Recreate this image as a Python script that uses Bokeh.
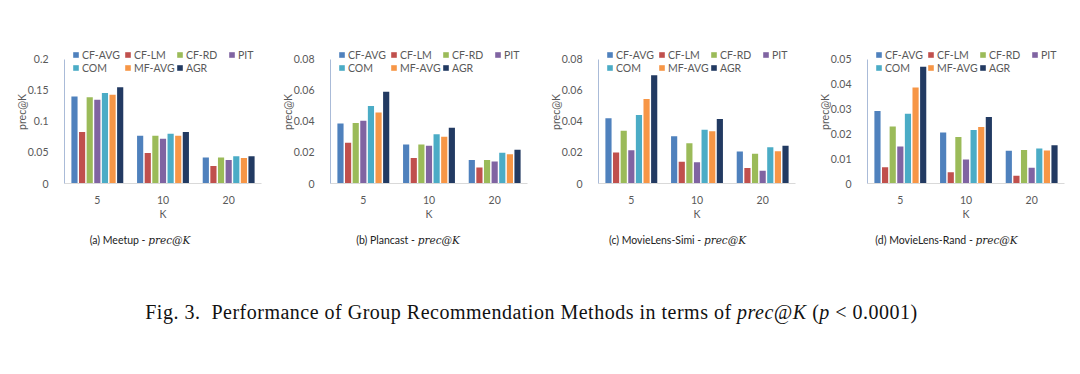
from bokeh.plotting import figure
from bokeh.models import (FactorRange, Range1d, FixedTicker, CustomJSTickFormatter,
                          Legend, LegendItem, Div, ColumnDataSource)
from bokeh.transform import dodge
from bokeh.layouts import column, row
from bokeh.embed import file_html
from bokeh.resources import INLINE

# ---------------- data ----------------
ks = ["5", "10", "20"]
methods = ["CF-AVG", "CF-LM", "CF-RD", "PIT", "COM", "MF-AVG", "AGR"]
colors = ["#4F81BD", "#C0504D", "#9BBB59", "#8064A2", "#4BACC6", "#F79646", "#223A62"]

meetup = {
    "CF-AVG": [0.140, 0.077, 0.042],
    "CF-LM":  [0.083, 0.049, 0.028],
    "CF-RD":  [0.139, 0.077, 0.042],
    "PIT":    [0.135, 0.072, 0.038],
    "COM":    [0.146, 0.080, 0.044],
    "MF-AVG": [0.143, 0.077, 0.041],
    "AGR":    [0.155, 0.083, 0.044],
}
plancast = {
    "CF-AVG": [0.0387, 0.0252, 0.0152],
    "CF-LM":  [0.0262, 0.0165, 0.0103],
    "CF-RD":  [0.0390, 0.0251, 0.0152],
    "PIT":    [0.0404, 0.0243, 0.0141],
    "COM":    [0.0500, 0.0317, 0.0198],
    "MF-AVG": [0.0457, 0.0302, 0.0189],
    "AGR":    [0.0592, 0.0360, 0.0217],
}
movielens_simi = {
    "CF-AVG": [0.0420, 0.0305, 0.0207],
    "CF-LM":  [0.0200, 0.0140, 0.0100],
    "CF-RD":  [0.0340, 0.0260, 0.0192],
    "PIT":    [0.0215, 0.0137, 0.0082],
    "COM":    [0.0442, 0.0347, 0.0233],
    "MF-AVG": [0.0545, 0.0336, 0.0208],
    "AGR":    [0.0697, 0.0415, 0.0244],
}
movielens_rand = {
    "CF-AVG": [0.0292, 0.0205, 0.0132],
    "CF-LM":  [0.0065, 0.0045, 0.0031],
    "CF-RD":  [0.0230, 0.0187, 0.0135],
    "PIT":    [0.0149, 0.0097, 0.0063],
    "COM":    [0.0281, 0.0216, 0.0141],
    "MF-AVG": [0.0387, 0.0228, 0.0133],
    "AGR":    [0.0470, 0.0268, 0.0154],
}

ticks_meetup = [0, 0.05, 0.1, 0.15, 0.2]
ticks_plancast = [0, 0.02, 0.04, 0.06, 0.08]
ticks_simi = [0, 0.02, 0.04, 0.06, 0.08]
ticks_rand = [0, 0.01, 0.02, 0.03, 0.04, 0.05]

captions = ["(a) Meetup", "(b) Plancast", "(c) MovieLens-Simi", "(d) MovieLens-Rand"]

# ---------------- styling ----------------
FONT = "Lato"
TXT = "#595959"
SLOT = 0.116
BARW = 0.094
TOP = 40          # frame top (px from canvas top)
FRAME_H = 144     # frame height; axis spans the lower 125 px
AXIS_H = 125


def make_panel(vals, yticks, border_left, border_right, caption, cap_pad):
    width = border_left + 197 + border_right
    ymax = yticks[-1]
    src = ColumnDataSource(data=dict(K=ks, **vals))
    p = figure(x_range=FactorRange(*ks), y_range=Range1d(0, ymax * FRAME_H / AXIS_H),
               width=width, height=TOP + FRAME_H + 38, output_backend="svg",
               toolbar_location=None,
               min_border_left=border_left, min_border_right=border_right,
               min_border_top=TOP, min_border_bottom=38)
    items = []
    for i, (m, c) in enumerate(zip(methods, colors)):
        r = p.vbar(x=dodge("K", (i - 3) * SLOT, range=p.x_range), top=m, width=BARW,
                   source=src, fill_color=c, line_color=None)
        items.append(LegendItem(label=m, renderers=[r]))
    leg = Legend(items=items, location=(8, 109), orientation="horizontal", ncols=4,
                 glyph_width=7, glyph_height=7, label_standoff=3, label_width=42,
                 label_height=13, spacing=0, padding=0, margin=0,
                 border_line_color=None, background_fill_alpha=0,
                 label_text_font=FONT, label_text_font_size="10.5px",
                 label_text_color=TXT, label_text_baseline="middle")
    p.add_layout(leg)

    p.xgrid.visible = False
    p.ygrid.visible = False
    p.outline_line_color = None
    p.background_fill_color = "white"

    p.yaxis.ticker = FixedTicker(ticks=yticks)
    p.yaxis.bounds = (0, ymax)
    p.yaxis.formatter = CustomJSTickFormatter(
        code="return String(Math.round(tick*10000)/10000);")
    p.yaxis.axis_line_color = "#AABBD8"
    p.yaxis.major_tick_line_color = None
    p.yaxis.minor_tick_line_color = None
    p.yaxis.major_label_standoff = 10
    p.yaxis.major_label_text_font = FONT
    p.yaxis.major_label_text_font_size = "10.5px"
    p.yaxis.major_label_text_color = TXT
    p.yaxis.axis_label = "prec@K"
    p.yaxis.axis_label_standoff = -3
    p.yaxis.axis_label_text_font = FONT
    p.yaxis.axis_label_text_font_style = "normal"
    p.yaxis.axis_label_text_font_size = "10.5px"
    p.yaxis.axis_label_text_color = TXT

    p.xaxis.axis_line_color = "#D9D9D9"
    p.xaxis.major_tick_line_color = None
    p.xaxis.minor_tick_line_color = None
    p.xaxis.major_label_standoff = 6
    p.xaxis.major_label_text_font = FONT
    p.xaxis.major_label_text_font_size = "10.5px"
    p.xaxis.major_label_text_color = TXT
    p.xaxis.axis_label = "K"
    p.xaxis.axis_label_standoff = 1
    p.xaxis.axis_label_text_font = FONT
    p.xaxis.axis_label_text_font_style = "normal"
    p.xaxis.axis_label_text_font_size = "10.5px"
    p.xaxis.axis_label_text_color = TXT

    cap = Div(text=(f'{caption} - <span style="font-family:\'DejaVu Serif\';'
                    f'font-style:italic;font-size:10.5px">prec@K</span>'),
              width=width, height=20, margin=(8, 0, 0, 0),
              styles={"text-align": "center", "font-family": FONT, "font-size": "10.5px",
                      "color": "#222222", "line-height": "20px",
                      "padding-left": f"{cap_pad}px", "box-sizing": "border-box"})
    return column(p, cap, spacing=0)


panels = [
    make_panel(meetup, ticks_meetup, 64, 13, captions[0], 6),
    make_panel(plancast, ticks_plancast, 56, 15, captions[1], 0),
    make_panel(movielens_simi, ticks_simi, 56, 16, captions[2], 2),
    make_panel(movielens_rand, ticks_rand, 56, 8, captions[3], 10),
]

fig_caption = Div(
    text=('Fig. 3.&nbsp; Performance of Group Recommendation Methods in terms of '
          '<i>prec@K</i> (<i>p</i> &lt; 0.0001)'),
    width=1072, height=26, margin=(49, 0, 0, 0),
    styles={"text-align": "center", "font-family": "Liberation Serif", "font-size": "20px",
            "letter-spacing": "0.5px", "color": "#111111", "line-height": "26px",
            "padding-right": "9px", "box-sizing": "border-box"})

layout = column(row(*panels, spacing=0), fig_caption, spacing=0)

open("out.html", "w").write(file_html(layout, INLINE))
